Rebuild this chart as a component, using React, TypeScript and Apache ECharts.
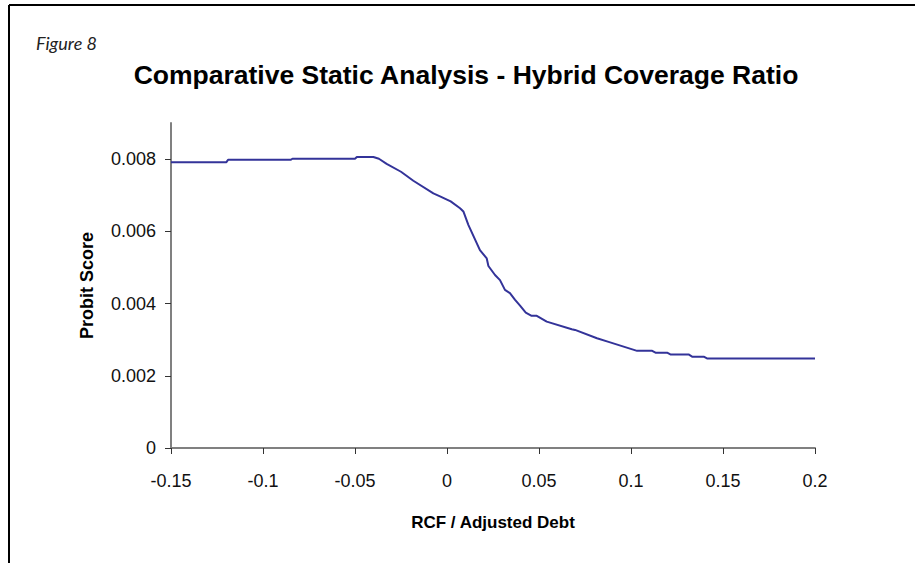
import React, { useEffect, useRef } from "react";
import * as echarts from "echarts";

const titleText = "Comparative Static Analysis - Hybrid Coverage Ratio";
const figureLabel = "Figure 8";
const xAxisName = "RCF / Adjusted Debt";
const yAxisName = "Probit Score";

const xTicks = [-0.15, -0.1, -0.05, 0, 0.05, 0.1, 0.15, 0.2];
const yTicks = [0, 0.002, 0.004, 0.006, 0.008];

const xValues = [
  -0.15, -0.12, -0.119, -0.085, -0.084, -0.05, -0.049, -0.04, -0.037, -0.0328,
  -0.025, -0.0183, -0.0074, -0.0038, 0.002, 0.0071, 0.0089, 0.0116, 0.0179, 0.0216,
  0.0225, 0.0261, 0.0288, 0.0315, 0.0342, 0.037, 0.0397, 0.0428, 0.046, 0.0488,
  0.0542, 0.0678, 0.0696, 0.0815, 0.0878, 0.1033, 0.1115, 0.1133, 0.1196, 0.1214,
  0.1313, 0.1332, 0.1395, 0.1413, 0.2,
];
const yValues = [
  0.00791, 0.00791, 0.00798, 0.00798, 0.00801, 0.00801, 0.00806, 0.00806, 0.00801, 0.00787,
  0.00765, 0.0074, 0.00705, 0.00697, 0.00683, 0.00664, 0.00655, 0.00618, 0.00548, 0.00525,
  0.00504, 0.00479, 0.00465, 0.00438, 0.00429, 0.0041, 0.00394, 0.00375, 0.00366, 0.00366,
  0.0035, 0.00329, 0.00327, 0.00304, 0.00294, 0.00269, 0.00269, 0.00264, 0.00264, 0.00259,
  0.00259, 0.00253, 0.00253, 0.00248, 0.00248,
];

export default function App() {
  const ref = useRef<HTMLDivElement>(null);
  useEffect(() => {
    if (!ref.current) return;
    const chart = echarts.init(ref.current, null, { renderer: "svg" });
    const data = xValues.map((x, i) => [x, yValues[i]]);
    chart.setOption({
      animation: false,
      backgroundColor: "#ffffff",
      graphic: [
        {
          type: "line",
          shape: { x1: 9, y1: 5, x2: 915, y2: 5 },
          style: { stroke: "#000000", lineWidth: 2 },
        },
        {
          type: "line",
          shape: { x1: 9, y1: 5, x2: 9, y2: 563 },
          style: { stroke: "#000000", lineWidth: 2 },
        },
        {
          type: "text",
          left: 36,
          top: 34,
          style: {
            text: figureLabel,
            font: "italic 18px Lato",
            fill: "#222222",
          },
        },
        {
          type: "text",
          x: 466,
          y: 75,
          style: {
            text: titleText,
            font: "bold 26.5px 'Liberation Sans'",
            fill: "#000000",
            align: "center",
            verticalAlign: "middle",
          },
        },
      ],
      grid: { left: 171, top: 123, right: 100, bottom: 115, containLabel: false },
      xAxis: {
        type: "value",
        min: -0.15,
        max: 0.2,
        interval: 0.05,
        name: xAxisName,
        nameLocation: "middle",
        nameGap: 66,
        nameTextStyle: {
          fontFamily: "Liberation Sans",
          fontWeight: "bold",
          fontSize: 17,
          color: "#000000",
        },
        splitLine: { show: false },
        axisLine: { show: true, onZero: false, lineStyle: { color: "#808080", width: 2 } },
        axisTick: {
          show: true,
          inside: false,
          length: 6,
          customValues: xTicks,
          lineStyle: { color: "#333333", width: 1 },
        },
        axisLabel: {
          margin: 24,
          customValues: xTicks,
          fontFamily: "Liberation Sans",
          fontSize: 18,
          color: "#111111",
        },
      },
      yAxis: {
        type: "value",
        min: 0,
        max: 0.009,
        interval: 0.002,
        name: yAxisName,
        nameLocation: "middle",
        nameGap: 75,
        nameRotate: 90,
        nameTextStyle: {
          fontFamily: "Liberation Sans",
          fontWeight: "bold",
          fontSize: 18,
          color: "#000000",
        },
        splitLine: { show: false },
        axisLine: { show: true, onZero: false, lineStyle: { color: "#808080", width: 2 } },
        axisTick: {
          show: true,
          inside: false,
          length: 6,
          customValues: yTicks,
          lineStyle: { color: "#333333", width: 1 },
        },
        axisLabel: {
          margin: 15,
          customValues: yTicks,
          fontFamily: "Liberation Sans",
          fontSize: 18,
          color: "#111111",
        },
      },
      series: [
        {
          type: "line",
          data,
          showSymbol: false,
          symbol: "none",
          lineStyle: { color: "#333399", width: 2 },
        },
      ],
    });
    return () => chart.dispose();
  }, []);
  return (
    <div
      ref={ref}
      style={{ position: "fixed", left: 0, top: 0, width: 915, height: 563 }}
    />
  );
}
